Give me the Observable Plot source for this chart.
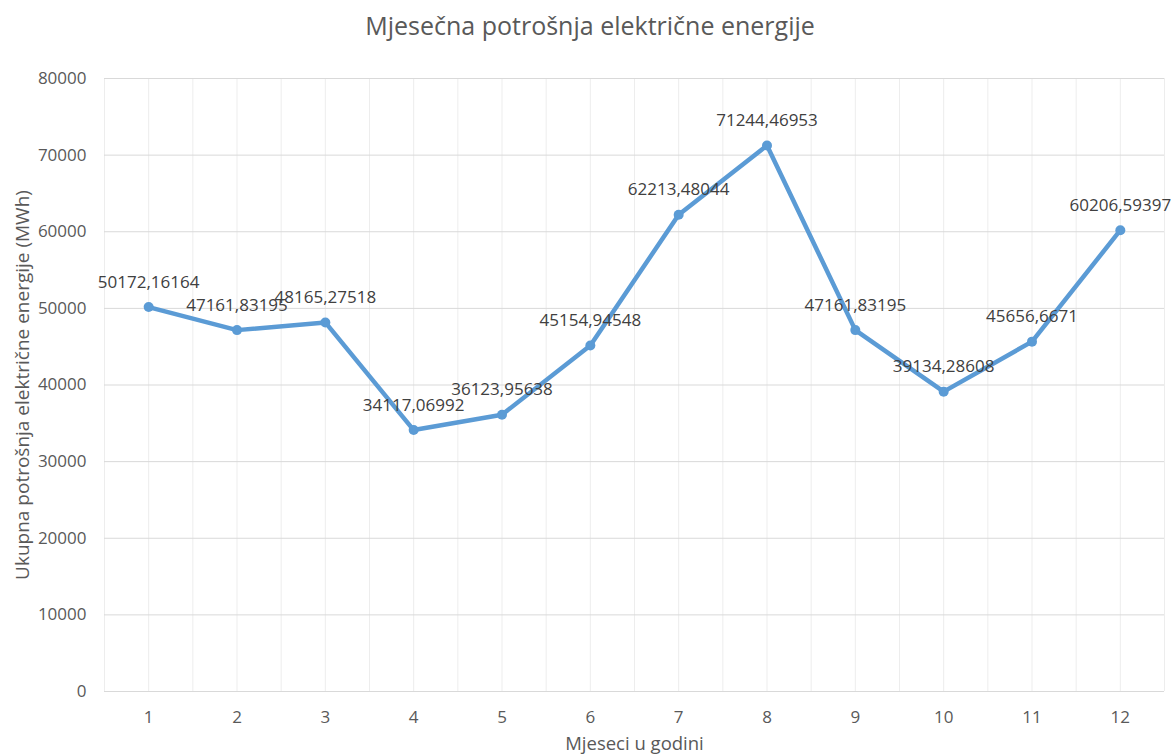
<!DOCTYPE html>
<html>
<head>
<meta charset="utf-8">
<script src="https://cdn.jsdelivr.net/npm/d3@7"></script>
<script src="https://cdn.jsdelivr.net/npm/@observablehq/plot@0.6"></script>
<style>
  body { margin: 0; background: #fff; }
  #title { height: 60px; line-height: 50px; text-align: center; font-family: "Open Sans", sans-serif; font-size: 25px; color: #595959; width: 1180px; }
</style>
</head>
<body>
<div id="title">Mjesečna potrošnja električne energije</div>
<div id="chart"></div>
<script>
const months = [1, 2, 3, 4, 5, 6, 7, 8, 9, 10, 11, 12];
const values = [50172.16164, 47161.83195, 48165.27518, 34117.06992, 36123.95638, 45154.94548,
                62213.48044, 71244.46953, 47161.83195, 39134.28608, 45656.6671, 60206.59397];
const yTicks = [0, 10000, 20000, 30000, 40000, 50000, 60000, 70000, 80000];
const xLabel = "Mjeseci u godini";
const yLabel = "Ukupna potrošnja električne energije (MWh)";

const data = months.map((m, i) => ({month: m, value: values[i], label: String(values[i]).replace(".", ",")}));
const vGrid = d3.range(0.5, 12.51, 0.5);
const color = "#5B9BD5";

const chart = Plot.plot({
  width: 1173,
  height: 696,
  marginLeft: 104,
  marginRight: 9,
  marginTop: 18,
  marginBottom: 65,
  style: {fontFamily: "Open Sans, sans-serif", fontSize: "17px", color: "#595959", background: "#fff"},
  x: {domain: [0.5, 12.5], ticks: months, tickSize: 0, tickPadding: 19, label: null, tickFormat: d3.format("d")},
  y: {domain: [0, 80000], ticks: yTicks, tickSize: 0, tickPadding: 18, label: null, tickFormat: d3.format("d")},
  marks: [
    Plot.ruleX(vGrid, {stroke: "#ededed", strokeWidth: 1}),
    Plot.ruleY(yTicks, {stroke: "#d9d9d9", strokeWidth: 1}),
    Plot.line(data, {x: "month", y: "value", stroke: color, strokeWidth: 4.5, strokeLinejoin: "round"}),
    Plot.dot(data, {x: "month", y: "value", r: 5, fill: color}),
    Plot.text(data, {x: "month", y: "value", text: "label", dy: -25, fill: "#404040", fontSize: 17}),
    Plot.text([xLabel], {frameAnchor: "bottom", dy: 58, fill: "#595959", fontSize: 18.5}),
    Plot.text([yLabel], {frameAnchor: "left", dx: -82, rotate: -90, textAnchor: "middle", fill: "#595959", fontSize: 19})
  ]
});
document.getElementById("chart").appendChild(chart);
</script>
</body>
</html>
